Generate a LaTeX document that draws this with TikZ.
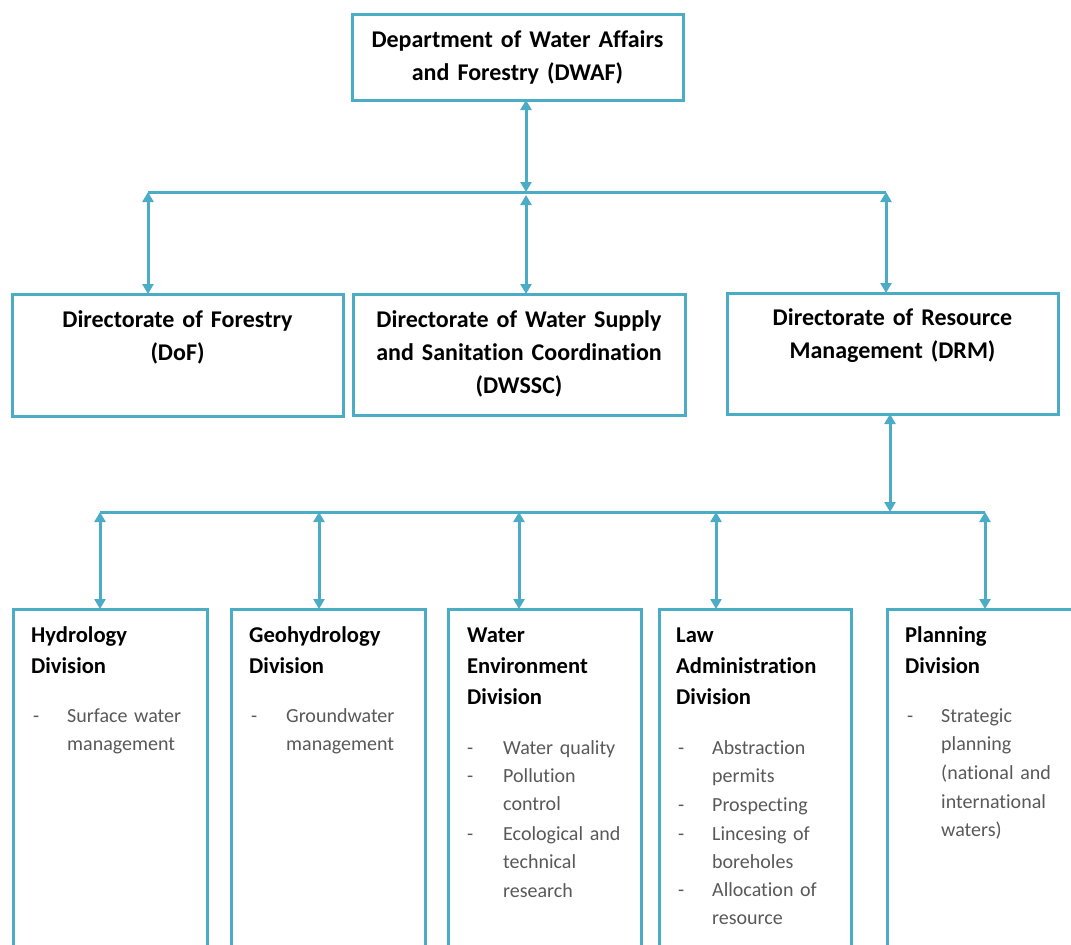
\documentclass[tikz,border=0pt]{standalone}
\usepackage{fontspec}
\setmainfont{Carlito}[Ligatures=NoCommon]
\usetikzlibrary{arrows.meta}
\definecolor{bord}{RGB}{75,172,198}
\definecolor{bultext}{RGB}{89,89,89}
\begin{document}
\begin{tikzpicture}[x=1pt,y=-1pt,
  box/.style={draw=bord, line width=3pt, rectangle, inner sep=0pt, outer sep=0pt, anchor=north west},
  conn/.style={draw=bord, line width=3pt},
  dbl/.style={conn, {Triangle[length=10pt,width=11pt]}-{Triangle[length=10pt,width=11pt]}},
  head/.style={font=\bfseries\fontsize{24}{33}\selectfont, align=center, anchor=base, text width=320pt, inner sep=0pt},
  divhead/.style={font=\bfseries\fontsize{22.6}{31}\selectfont, align=left, anchor=base west, text width=175pt, inner sep=0pt},
  dashn/.style={font=\fontsize{20}{28.7}\selectfont, text=bultext, anchor=base west, inner sep=0pt},
  bul/.style={font=\fontsize{20}{28.7}\selectfont, text=bultext, align=left, anchor=base west, text width=140pt, inner sep=0pt},
]
\useasboundingbox (0,0) rectangle (1071,945);
\fill[white] (0,0) rectangle (1071,945);
\clip (0,0) rectangle (1071,945);

% top
\node[box, minimum width=331pt, minimum height=86pt] (dwaf) at (352,14) {};
\node[head] (dwaft) at (517.5,47) {Department of Water Affairs\\and Forestry (DWAF)};

% level 2
\node[box, minimum width=331pt, minimum height=122pt] (dof) at (12,294) {};
\node[head] (doft) at (177.5,327) {Directorate of Forestry\\(DoF)};
\node[box, minimum width=332pt, minimum height=121pt] (dwssc) at (353,294) {};
\node[head] (dwssct) at (519,327) {Directorate of Water Supply\\and Sanitation Coordination\\(DWSSC)};
\node[box, minimum width=331pt, minimum height=121pt] (drm) at (727,293) {};
\node[head] (drmt) at (892.5,325) {Directorate of Resource\\Management (DRM)};

% upper bus
\coordinate (b1) at (148,192);
\coordinate (b2) at (526,192);
\coordinate (b3) at (886,192);
\draw[conn] (b1) -- (b3);
\draw[dbl] (dwaf.south -| b2) -- (b2);
\draw[dbl] (b1) -- (b1 |- dof.north);
\draw[dbl] ([yshift=-3pt]b2) -- (b2 |- dwssc.north);
\draw[dbl] (b3) -- (b3 |- drm.north);

% level 3
\node[box, minimum width=194pt, minimum height=400pt] (hyd) at (13,609) {};
\node[box, minimum width=194pt, minimum height=400pt] (geo) at (231,609) {};
\node[box, minimum width=193pt, minimum height=400pt] (wed) at (448,609) {};
\node[box, minimum width=192pt, minimum height=400pt] (law) at (659,609) {};
\node[box, minimum width=193pt, minimum height=400pt] (pla) at (887,609) {};

% lower bus
\coordinate (c1) at (100,512);
\coordinate (c2) at (319,512);
\coordinate (c3) at (519,512);
\coordinate (c4) at (716,512);
\coordinate (c5) at (985,512);
\coordinate (cd) at (890,512);
\draw[conn] (c1) -- (c5);
\draw[dbl] (drm.south -| cd) -- (cd);
\draw[dbl] (c1) -- (c1 |- hyd.north);
\draw[dbl] (c2) -- (c2 |- geo.north);
\draw[dbl] (c3) -- (c3 |- wed.north);
\draw[dbl] (c4) -- (c4 |- law.north);
\draw[dbl] (c5) -- (c5 |- pla.north);

% division titles
\node[divhead] (hydt) at (31,642) {Hydrology\\Division};
\node[divhead] (geot) at (249,642) {Geohydrology\\Division};
\node[divhead] (wedt) at (467,642) {Water\\Environment\\Division};
\node[divhead] (lawt) at (676,642) {Law\\Administration\\Division};
\node[divhead] (plat) at (905,642) {Planning\\Division};

% bullets
\node[dashn] (hd1) at (33,722) {-};
\node[bul] (hb1) at (67,722) {Surface water\\management};
\node[dashn] (gd1) at (251,722) {-};
\node[bul] (gb1) at (286,722) {Groundwater\\management};

\node[dashn] (wd1) at (467,754) {-};
\node[bul] (wb1) at (503,754) {Water quality};
\node[dashn] (wd2) at (467,782) {-};
\node[bul] (wb2) at (503,782) {Pollution\\control};
\node[dashn] (wd3) at (467,840) {-};
\node[bul] (wb3) at (503,840) {Ecological and\\technical\\research};

\node[dashn] (ld1) at (678,754) {-};
\node[bul] (lb1) at (712,754) {Abstraction\\permits};
\node[dashn] (ld2) at (678,811) {-};
\node[bul] (lb2) at (712,811) {Prospecting};
\node[dashn] (ld3) at (678,840) {-};
\node[bul] (lb3) at (712,840) {Lincesing of\\boreholes};
\node[dashn] (ld4) at (678,896) {-};
\node[bul] (lb4) at (712,896) {Allocation of\\resource};

\node[dashn] (pd1) at (907,722) {-};
\node[bul] (pb1) at (941,722) {Strategic\\planning\\(national and\\international\\waters)};
\end{tikzpicture}
\end{document}
